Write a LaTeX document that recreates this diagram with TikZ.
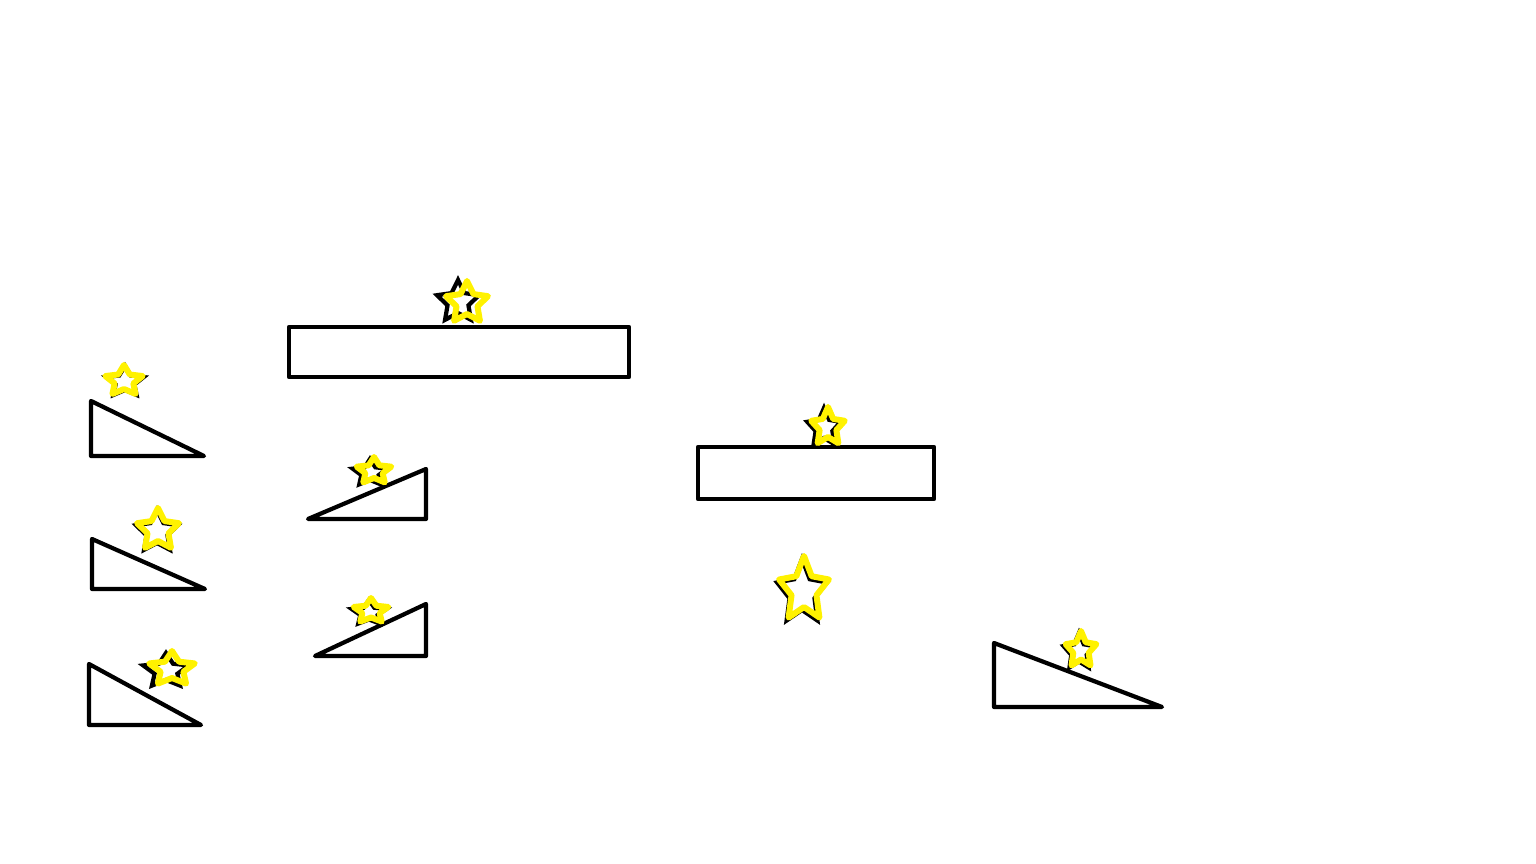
\documentclass[tikz,border=0pt]{standalone}
\usetikzlibrary{shapes.geometric}
\tikzset{
  block/.style={draw=black, line width=1.2pt, line join=round},
  kstar/.style={star, star points=5, star point ratio=2.0, draw=black, line width=1.2pt, inner sep=0pt, transform shape},
  ystar/.style={star, star points=5, star point ratio=2.0, draw=yellow, line width=1.7pt, inner sep=0pt, transform shape, line join=round},
}
\begin{document}
\begin{tikzpicture}[x=0.01cm, y=-0.01cm]
    \useasboundingbox (0,0) rectangle (1536,864);
    % slopes
    \draw[block] (91,401) -- (91,456) -- (204,456) -- cycle;
    \draw[block] (92,539) -- (92,589) -- (205,589) -- cycle;
    \draw[block] (89,664) -- (89,725) -- (201,725) -- cycle;
    \draw[block] (426,469) -- (426,519) -- (308,519) -- cycle;
    \draw[block] (426,604) -- (426,656) -- (315,656) -- cycle;
    \draw[block] (994,643) -- (994,707) -- (1162,707) -- cycle;
    % platforms
    \draw[block] (289,327) rectangle (629,377);
    \draw[block] (698,447) rectangle (934,499);
    % stars: name/x/y/radius/width factor/shadow dx/shadow dy
    \foreach \n/\x/\y/\r/\a/\dx/\dy in {s1/467/303/23/1.0/-9/-1, s2/828/427/21/0.88/-4/1,
        s3/804/590/35/0.77/-2/3, s4/124/381/17/1.23/1/1, s5/158/530/23/1.0/-1/2,
        s6/172/669/19/1.33/-6/2, s7/374/471/15/1.3/-4/2, s8/371/611/14/1.4/-2/2,
        s9/1081/650/20/0.85/-2/2}
    {
        \begin{scope}[shift={(\x,\y)}, xscale=\a]
            \node[kstar, minimum size={0.02cm*\r-0.02cm}] (\n k) at (\dx/\a,\dy) {};
            \node[ystar, minimum size={0.02cm*\r-0.02cm}] (\n) at (0,0) {};
        \end{scope}
    }
\end{tikzpicture}
\end{document}
